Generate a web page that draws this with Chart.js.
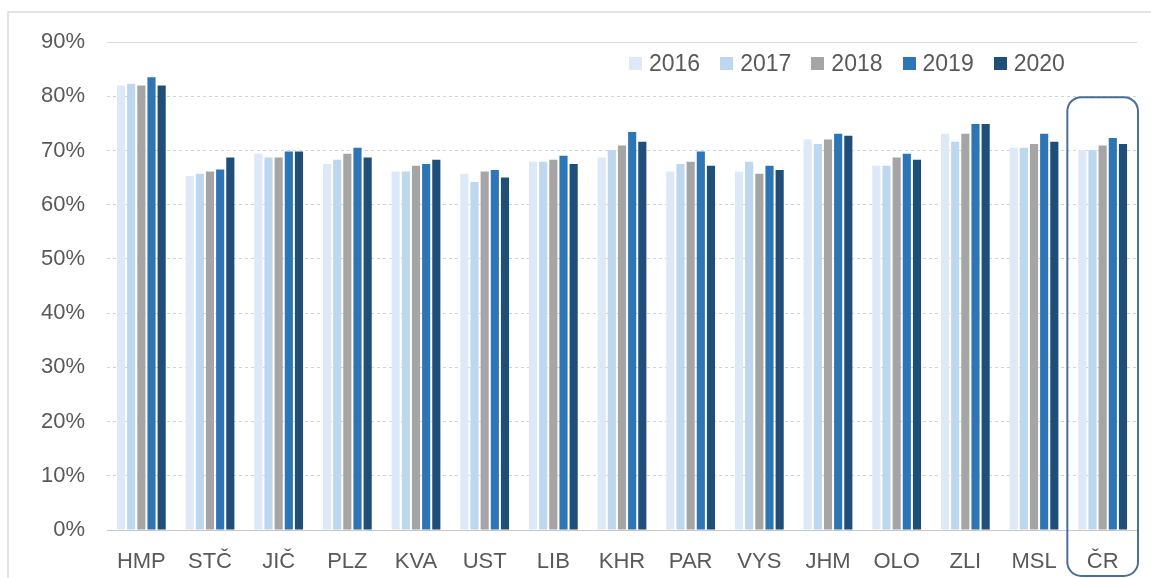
<!DOCTYPE html>
<html>
<head>
<meta charset="utf-8">
<script src="https://cdn.jsdelivr.net/npm/chart.js@4/dist/chart.umd.min.js"></script>
<style>
  html, body { margin: 0; padding: 0; background: #fff; }
  #wrap { position: relative; width: 1151px; height: 578px; }
  #frame { position: absolute; left: 7px; top: 11px; width: 1160px; height: 600px;
           border: 2px solid #e3e3e3; box-sizing: border-box; }
  #legend { position: absolute; top: 50px; left: 629px; display: flex;
            font-family: "Liberation Sans", Arial, sans-serif; font-size: 23px; color: #595959; }
  #legend span.item { display: flex; align-items: center; margin-right: 20px; }
  #legend span.box { width: 13px; height: 13px; margin-right: 7px; display: inline-block; }
</style>
</head>
<body>
<div id="wrap">
  <div id="frame"></div>
  <canvas id="chart" width="1151" height="578"></canvas>
  <div id="legend"></div>
</div>
<script>
const regions = ["HMP", "STČ", "JIČ", "PLZ", "KVA", "UST", "LIB", "KHR", "PAR", "VYS", "JHM", "OLO", "ZLI", "MSL", "ČR"];
const years = ["2016", "2017", "2018", "2019", "2020"];
const colors = ["#dde9f6", "#bdd7ee", "#a5a5a5", "#2e75b6", "#1f4e79"];

const v2016 = [82.0, 65.3, 69.4, 67.5, 66.1, 65.7, 67.9, 68.7, 66.1, 66.1, 72.0, 67.2, 73.1, 70.5, 70.1];
const v2017 = [82.3, 65.7, 68.7, 68.3, 66.1, 64.2, 67.9, 70.1, 67.5, 67.9, 71.2, 67.2, 71.6, 70.5, 70.1];
const v2018 = [82.0, 66.1, 68.7, 69.4, 67.2, 66.1, 68.3, 70.9, 67.9, 65.7, 72.0, 68.7, 73.1, 71.2, 70.9];
const v2019 = [83.5, 66.5, 69.8, 70.5, 67.5, 66.4, 69.0, 73.4, 69.8, 67.2, 73.1, 69.4, 74.9, 73.1, 72.3];
const v2020 = [82.0, 68.7, 69.8, 68.7, 68.3, 65.0, 67.5, 71.6, 67.2, 66.4, 72.7, 68.3, 74.9, 71.6, 71.2];
const series = [v2016, v2017, v2018, v2019, v2020];

const yTicks = [0, 10, 20, 30, 40, 50, 60, 70, 80, 90];

const datasets = years.map((y, i) => ({
  label: y,
  data: series[i],
  backgroundColor: colors[i],
  borderWidth: 0,
  categoryPercentage: 0.74,
  barPercentage: 0.8
}));

// rounded box around the last category (ČR)
const highlightBox = {
  id: "highlightBox",
  afterDatasetsDraw(chart) {
    const x = chart.scales.x, y = chart.scales.y;
    const idx = regions.length - 1;
    const step = x.getPixelForValue(1) - x.getPixelForValue(0);
    const cx = x.getPixelForValue(idx);
    const left = cx - step / 2 - 1, right = cx + step / 2 + 1;
    const top = y.getPixelForValue(80) + 1, bottom = chart.height - 2;
    const ctx = chart.ctx;
    ctx.save();
    ctx.strokeStyle = "#4a6f96";
    ctx.lineWidth = 2;
    ctx.beginPath();
    ctx.roundRect(left, top, right - left, bottom - top, 14);
    ctx.stroke();
    ctx.restore();
  }
};

new Chart(document.getElementById("chart"), {
  type: "bar",
  data: { labels: regions, datasets },
  options: {
    responsive: false,
    animation: false,
    layout: { padding: { top: 42, right: 14, bottom: 0, left: 0 } },
    plugins: { legend: { display: false }, tooltip: { enabled: false } },
    scales: {
      x: {
        grid: { display: false },
        border: { display: false },
        ticks: {
          color: "#595959",
          padding: 11,
          maxRotation: 0,
          font: { family: "'Liberation Sans', Arial, sans-serif", size: 22 }
        },
        afterFit(s) { s.height = 48; }
      },
      y: {
        min: 0,
        max: 90,
        afterBuildTicks(s) { s.ticks = yTicks.map(v => ({ value: v })); },
        grid: {
          drawTicks: false,
          color: ctx => ctx.tick && ctx.tick.value === 0 ? "#c8c8c8" : (ctx.tick && ctx.tick.value === 90 ? "#d9d9d9" : "#cdd5df"),
          lineWidth: 1
        },
        border: {
          display: false,
          dash: ctx => (ctx.tick && (ctx.tick.value === 0 || ctx.tick.value === 90)) ? [] : [3, 3]
        },
        ticks: {
          color: "#595959",
          padding: 22,
          font: { family: "'Liberation Sans', Arial, sans-serif", size: 22 },
          callback: v => v + "%"
        },
        afterFit(s) { s.width = 107; }
      }
    }
  },
  plugins: [highlightBox]
});

// legend as HTML text inside the plot area
const legend = document.getElementById("legend");
years.forEach((y, i) => {
  const item = document.createElement("span");
  item.className = "item";
  const box = document.createElement("span");
  box.className = "box";
  box.style.background = colors[i];
  item.appendChild(box);
  item.appendChild(document.createTextNode(y));
  legend.appendChild(item);
});
</script>
</body>
</html>
